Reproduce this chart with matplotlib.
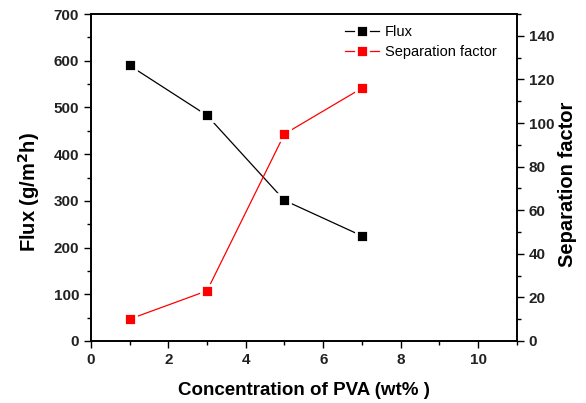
import matplotlib
matplotlib.use("Agg")
import matplotlib.pyplot as plt
from matplotlib.ticker import MultipleLocator

plt.rcParams["font.family"] = ["Liberation Sans", "DejaVu Sans"]

# PVA loading in the casting solution (wt%)
pva_conc = [1, 3, 5, 7]
flux = [590, 483, 301, 225]          # g/m2h
sep_factor = [10, 23, 95, 116]

fig = plt.figure(figsize=(5.86, 4.03), dpi=100)
ax = fig.add_axes([0.155, 0.154, 0.727, 0.811])
ax2 = ax.twinx()

# white marker edge leaves a small gap between line and symbol
mk = dict(marker="s", ms=9, mew=2.0, mec="white", lw=0.9)
l1, = ax.plot(pva_conc, flux, color="black", mfc="black", label="Flux", **mk)
l2, = ax2.plot(pva_conc, sep_factor, color="red", mfc="red",
               label="Separation factor", **mk)

ax.set_xlim(0, 11)
ax.set_ylim(0, 700)
ax2.set_ylim(0, 150)
ax.xaxis.set_major_locator(MultipleLocator(2))
ax.xaxis.set_minor_locator(MultipleLocator(1))
ax.yaxis.set_major_locator(MultipleLocator(100))
ax.yaxis.set_minor_locator(MultipleLocator(50))
ax2.yaxis.set_major_locator(MultipleLocator(20))
ax2.yaxis.set_minor_locator(MultipleLocator(10))

for a in (ax, ax2):
    a.tick_params(which="major", length=5, width=1.0, labelsize=11, direction="out")
    a.tick_params(which="minor", length=3, width=1.0, direction="out")
    for s in a.spines.values():
        s.set_linewidth(1.2)
ax.tick_params(top=False, which="both")
for lab in ax.get_xticklabels() + ax.get_yticklabels() + ax2.get_yticklabels():
    lab.set_fontweight("bold")
    lab.set_color("#222222")

ax.set_xlabel("Concentration of PVA (wt% )", fontsize=13.5, fontweight="bold",
              labelpad=11)
ax.set_ylabel("Flux (g/m$^\\mathbf{2}$h)", fontsize=14.5, fontweight="bold")
ax2.set_ylabel("Separation factor", fontsize=14.5, fontweight="bold")
ax.yaxis.set_label_coords(-0.115, 0.455)
ax2.yaxis.set_label_coords(1.097, 0.48)

ax.legend(handles=[l1, l2], loc="upper left", bbox_to_anchor=(0.579, 0.953),
          bbox_transform=fig.transFigure, borderaxespad=0, frameon=False,
          fontsize=10.5, handlelength=2.3, handletextpad=0.4,
          labelspacing=0.45)

fig.savefig("out.png", dpi=100)
